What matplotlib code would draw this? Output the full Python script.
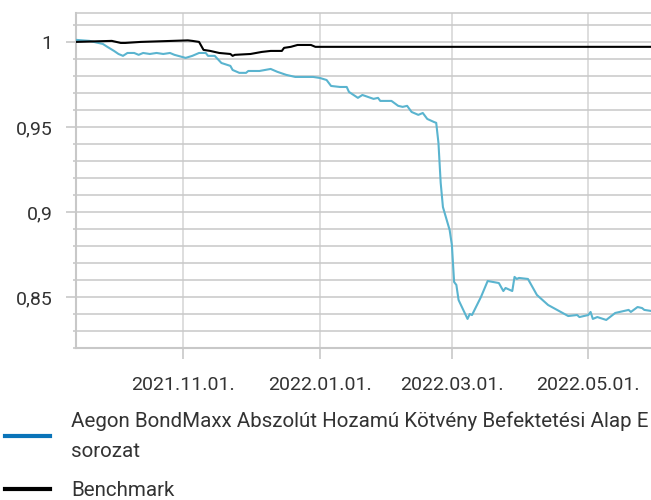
import numpy as np
import pandas as pd
import matplotlib
matplotlib.use('Agg')
import matplotlib.pyplot as plt
import matplotlib.dates as mdates
from matplotlib.lines import Line2D
from matplotlib.ticker import MultipleLocator, FuncFormatter

plt.rcParams['font.family'] = ['Roboto', 'DejaVu Sans']

#%% data
fund_dates = ['2021-09-14', '2021-09-20', '2021-09-24', '2021-09-26', '2021-09-28',
              '2021-10-01', '2021-10-03', '2021-10-05', '2021-10-07', '2021-10-10',
              '2021-10-12', '2021-10-14', '2021-10-17', '2021-10-20', '2021-10-23',
              '2021-10-26', '2021-10-28', '2021-11-02', '2021-11-05', '2021-11-08',
              '2021-11-11', '2021-11-12', '2021-11-15', '2021-11-18', '2021-11-22',
              '2021-11-23', '2021-11-26', '2021-11-29', '2021-11-30', '2021-12-05',
              '2021-12-10', '2021-12-13', '2021-12-17', '2021-12-21', '2021-12-29',
              '2022-01-01', '2022-01-04', '2022-01-06', '2022-01-10', '2022-01-13',
              '2022-01-14', '2022-01-18', '2022-01-20', '2022-01-25', '2022-01-27',
              '2022-01-28', '2022-02-02', '2022-02-05', '2022-02-07', '2022-02-09',
              '2022-02-11', '2022-02-14', '2022-02-16', '2022-02-18', '2022-02-21',
              '2022-02-22', '2022-02-23', '2022-02-24', '2022-02-25', '2022-02-28',
              '2022-03-01', '2022-03-02', '2022-03-03', '2022-03-04', '2022-03-08',
              '2022-03-09', '2022-03-10', '2022-03-14', '2022-03-17', '2022-03-22',
              '2022-03-24', '2022-03-25', '2022-03-28', '2022-03-29', '2022-03-30',
              '2022-03-31', '2022-04-04', '2022-04-08', '2022-04-13', '2022-04-22',
              '2022-04-26', '2022-04-27', '2022-05-01', '2022-05-02', '2022-05-03',
              '2022-05-05', '2022-05-09', '2022-05-13', '2022-05-19', '2022-05-20',
              '2022-05-23', '2022-05-25', '2022-05-26', '2022-05-29']
fund_values = [1.0012, 1.0006, 0.9994, 0.9988, 0.9971,
               0.9947, 0.9929, 0.9918, 0.9935, 0.9935,
               0.9924, 0.9935, 0.9929, 0.9935, 0.9929,
               0.9935, 0.9924, 0.9906, 0.9918, 0.9935,
               0.9935, 0.9918, 0.9918, 0.9876, 0.9859,
               0.9835, 0.9818, 0.9818, 0.9829, 0.9829,
               0.9841, 0.9824, 0.9806, 0.9794, 0.9794,
               0.9788, 0.9776, 0.9741, 0.9735, 0.9735,
               0.9706, 0.9671, 0.9688, 0.9665, 0.9671,
               0.9653, 0.9653, 0.9624, 0.9618, 0.9624,
               0.9588, 0.9571, 0.9582, 0.9547, 0.9529,
               0.9524, 0.9406, 0.9171, 0.9029, 0.8894,
               0.8806, 0.8588, 0.8571, 0.8482, 0.8371,
               0.8400, 0.8394, 0.8500, 0.8594, 0.8582,
               0.8535, 0.8553, 0.8535, 0.8618, 0.8606,
               0.8612, 0.8606, 0.8512, 0.8453, 0.8388,
               0.8394, 0.8382, 0.8394, 0.8412, 0.8371,
               0.8382, 0.8365, 0.8406, 0.8424, 0.8412,
               0.8441, 0.8435, 0.8424, 0.8418]

bench_dates = ['2021-09-14', '2021-09-30', '2021-10-04', '2021-10-06', '2021-10-13',
               '2021-10-27', '2021-11-03', '2021-11-05', '2021-11-08', '2021-11-10',
               '2021-11-13', '2021-11-17', '2021-11-22', '2021-11-23', '2021-11-24',
               '2021-12-01', '2021-12-06', '2021-12-10', '2021-12-15', '2021-12-16',
               '2021-12-19', '2021-12-22', '2021-12-28', '2021-12-30', '2022-05-29']
bench_values = [1.0000, 1.0006, 0.9994, 0.9994, 1.0000,
                1.0006, 1.0009, 1.0006, 1.0000, 0.9953,
                0.9947, 0.9935, 0.9929, 0.9918, 0.9924,
                0.9929, 0.9941, 0.9947, 0.9947, 0.9965,
                0.9971, 0.9982, 0.9982, 0.9971, 0.9971]

tick_dates = ['2021-11-01', '2022-01-01', '2022-03-01', '2022-05-01']
names = ['Aegon BondMaxx Abszolút Hozamú Kötvény Befektetési Alap E\nsorozat',
         'Benchmark']

fund_x = pd.to_datetime(fund_dates)
bench_x = pd.to_datetime(bench_dates)

#%% plotting
grid_c = '#c8c8c8'
text_c = '#333333'

fig = plt.figure(figsize=(6.51, 5.0), dpi=100)
ax = fig.add_axes([76/651, 152/500, 1 - 76/651, (348-13)/500])

ax.plot(fund_x, fund_values, color='#5ab4cf', lw=1.5, zorder=3)
ax.plot(bench_x, bench_values, color='black', lw=1.5, zorder=4)

ax.set_xlim(fund_x[0], fund_x[-1])
ax.set_ylim(0.82, 1.017)

ax.set_xticks(pd.to_datetime(tick_dates))
ax.xaxis.set_major_formatter(mdates.DateFormatter('%Y.%m.%d.'))
ax.yaxis.set_major_locator(MultipleLocator(0.05))
ax.yaxis.set_minor_locator(MultipleLocator(0.01))
ax.yaxis.set_major_formatter(FuncFormatter(lambda v, p: f'{v:g}'.replace('.', ',')))

ax.grid(True, which='both', axis='y', color=grid_c, lw=1.1, zorder=0)
ax.grid(True, which='major', axis='x', color='#d4d4d4', lw=1.1, zorder=0)
ax.set_axisbelow(True)

for s in ['left', 'bottom', 'top']:
    ax.spines[s].set_color(grid_c)
    ax.spines[s].set_linewidth(1.5)
ax.spines['top'].set_linewidth(1.1)
ax.spines['right'].set_visible(False)

ax.tick_params(axis='y', which='major', length=7, width=1.2, color=grid_c,
               labelsize=14, labelcolor=text_c, pad=10)
ax.tick_params(axis='y', which='minor', length=2.5, width=1.2, color=grid_c)
ax.tick_params(axis='x', which='major', length=8, width=1.2, color=grid_c,
               labelsize=14, labelcolor=text_c, pad=12)

handles = [Line2D([], [], color='#0a74b9', lw=3),
           Line2D([], [], color='black', lw=3)]
leg = fig.legend(handles, names, loc='upper left', bbox_to_anchor=(5/651, 1 - 411/500),
                 frameon=False, fontsize=14.8, handlelength=2.2, handletextpad=1.0,
                 borderpad=0, borderaxespad=0, labelspacing=1.0, labelcolor=text_c)
for t in leg.get_texts():
    t.set_linespacing(1.75)

fig.savefig('out.png', dpi=100)
